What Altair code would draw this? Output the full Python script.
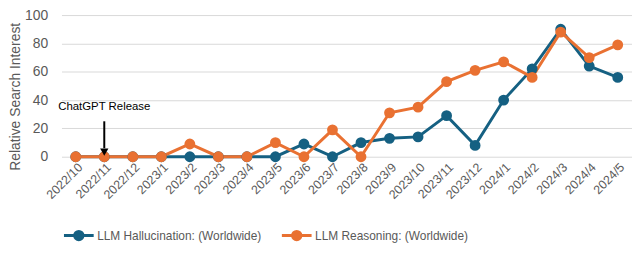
import altair as alt
import pandas as pd

months = ["2022/10", "2022/11", "2022/12", "2023/1", "2023/2", "2023/3", "2023/4",
          "2023/5", "2023/6", "2023/7", "2023/8", "2023/9", "2023/10", "2023/11",
          "2023/12", "2024/1", "2024/2", "2024/3", "2024/4", "2024/5"]
hallucination = [0, 0, 0, 0, 0, 0, 0, 0, 9, 0, 10, 13, 14, 29, 8, 40, 62, 90, 64, 56]
reasoning = [0, 0, 0, 0, 9, 0, 0, 10, 0, 19, 0, 31, 35, 53, 61, 67, 56, 88, 70, 79]
series_names = ["LLM Hallucination: (Worldwide)", "LLM Reasoning: (Worldwide)"]
series_colors = ["#156082", "#E97132"]
y_ticks = [0, 20, 40, 60, 80, 100]
annotation_text = "ChatGPT Release"
annotation_month = "2022/11"

rows = []
for name, vals in zip(series_names, [hallucination, reasoning]):
    for m, v in zip(months, vals):
        rows.append({"month": m, "value": v, "series": name})
df = pd.DataFrame(rows)

FONT = "Liberation Sans, Arial, sans-serif"
GRAY = "#595959"

x_axis = alt.Axis(title=None, labelAngle=-45, labelFontSize=12.5, labelColor=GRAY,
                  labelFont=FONT, domain=False, ticks=False, grid=False,
                  labelPadding=4, labelOverlap=False)
y_axis = alt.Axis(title="Relative Search Interest", values=y_ticks, tickCount=6,
                  labelOverlap=False, grid=True,
                  labelFontSize=14, labelColor=GRAY, labelFont=FONT,
                  labelPadding=14, domain=False, ticks=False,
                  gridColor="#d9d9d9", gridWidth=1,
                  titleFontSize=14, titleFont=FONT, titleColor=GRAY,
                  titleFontWeight="normal", titleX=-46, titleY=82,
                  titleAngle=270, titleAlign="center", titleBaseline="middle")
y_scale = alt.Scale(domain=[0, 100], nice=False)
x_scale = alt.Scale(type="point", padding=0.5)

x_enc = alt.X("month:N", sort=months, scale=x_scale, axis=x_axis)
y_enc = alt.Y("value:Q", scale=y_scale, axis=y_axis)

sym_path = ("M-1,0H1M0.28,0A0.28,0.28,0,1,1,-0.28,0A0.28,0.28,0,1,1,0.28,0Z")
legend = alt.Legend(title=None, orient="none", direction="horizontal", legendX=1, legendY=206,
                    symbolType=sym_path, symbolSize=900, symbolStrokeWidth=3,
                    labelFont=FONT, labelFontSize=12, labelColor=GRAY, labelOffset=2,
                    columnPadding=14, labelLimit=300)
cscale = alt.Scale(domain=series_names, range=series_colors)

lines = alt.Chart(df).mark_line(strokeWidth=3).encode(
    x=x_enc, y=y_enc,
    stroke=alt.Stroke("series:N", scale=cscale, sort=series_names, legend=legend),
)
points = alt.Chart(df).mark_point(filled=True, size=80, opacity=1).encode(
    x=x_enc, y=y_enc,
    fill=alt.Fill("series:N", scale=cscale, sort=series_names, legend=legend),
    stroke=alt.Stroke("series:N", scale=cscale, sort=series_names, legend=legend),
    order=alt.Order("series:N"),
)

ann = pd.DataFrame({"month": [annotation_month], "label": [annotation_text]})
ax = alt.X("month:N", sort=months, scale=x_scale, axis=x_axis)
arrow_shaft = alt.Chart(ann).mark_rule(color="black", strokeWidth=2).encode(
    x=ax, y=alt.YDatum(25, scale=y_scale, axis=y_axis), y2=alt.Y2Datum(6))
arrow_head = alt.Chart(ann).mark_point(shape="triangle-down", filled=True, color="black",
                                       size=70, opacity=1).encode(
    x=ax, y=alt.YDatum(3.2, scale=y_scale, axis=y_axis))
arrow_text = alt.Chart(ann).mark_text(font="Liberation Sans", fontSize=11.5, color="black",
                                      align="center", baseline="middle").encode(
    x=ax, y=alt.YDatum(35, scale=y_scale, axis=y_axis), text="label:N")

chart = alt.layer(lines, points, arrow_shaft, arrow_head, arrow_text).properties(
    width=576, height=143,
    autosize=alt.AutoSizeParams(type="none"),
    padding={"left": 54, "top": 6, "right": 0, "bottom": 88},
).configure_view(stroke=None)

chart.save("out.html", embed_options={"renderer": "svg", "actions": False})
